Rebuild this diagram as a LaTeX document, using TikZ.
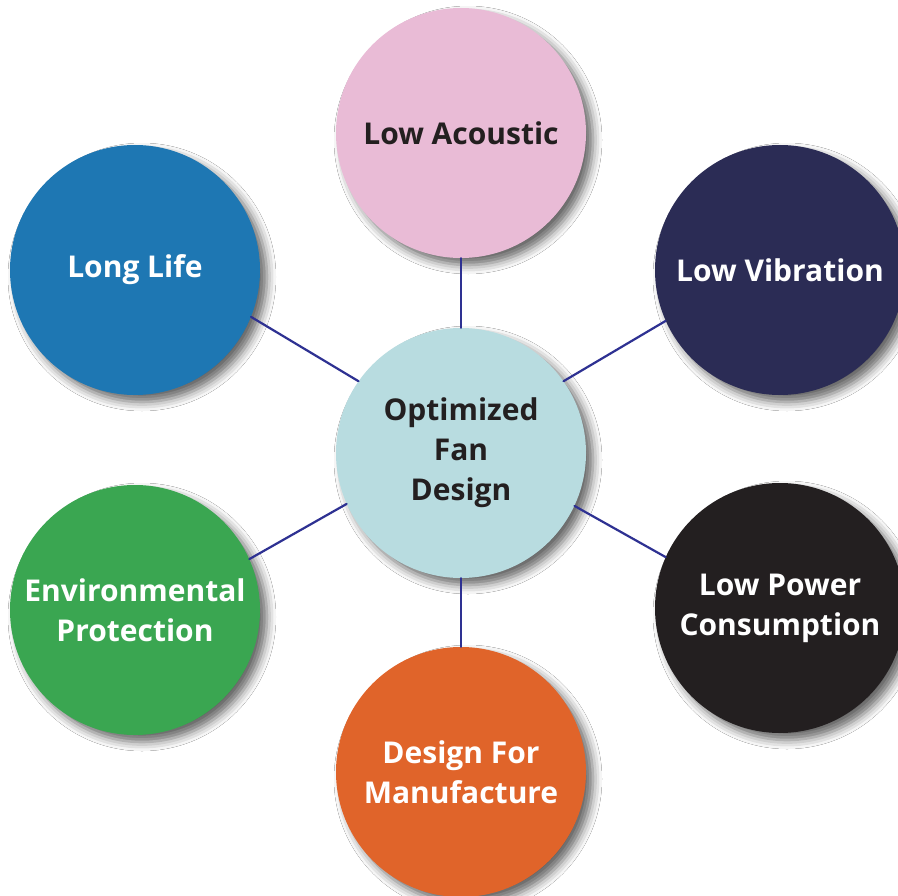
\documentclass[tikz,border=0pt]{standalone}
\usepackage{fontspec}
\setmainfont{Open Sans}
\usetikzlibrary{shadows.blur}

\definecolor{acousticpink}{HTML}{E9BBD6}
\definecolor{lifeblue}{HTML}{1E77B3}
\definecolor{vibnavy}{HTML}{2B2C55}
\definecolor{powerblack}{HTML}{231F20}
\definecolor{manuforange}{HTML}{E0642A}
\definecolor{envgreen}{HTML}{3AA651}
\definecolor{fanblue}{HTML}{B8DCE0}
\definecolor{spokeblue}{HTML}{2E3192}
\definecolor{darktext}{HTML}{231F20}

\begin{document}
\begin{tikzpicture}[x=1pt,y=-1pt,line join=round,line cap=round,
		bubble/.style={circle,minimum size=250pt,inner sep=0pt,align=center,
			font=\bfseries\fontsize{30}{40}\selectfont,
			blur shadow={shadow xshift=7pt,shadow yshift=-7pt,shadow blur radius=9pt,shadow opacity=60}},
		spoke/.style={draw=spokeblue,line width=2.2pt}]
	\clip (0,0) rectangle (898,896);
	\fill[white] (0,0) rectangle (898,896);
	% outer bubbles
	\node[bubble,fill=acousticpink,text=darktext] (acoustic) at (461,133) {Low Acoustic};
	\node[bubble,fill=lifeblue,text=white] (life) at (135,270) {Long Life};
	\node[bubble,fill=vibnavy,text=white] (vib) at (780,270) {Low Vibration};
	\node[bubble,fill=envgreen,text=white] (env) at (135,610) {Environmental\\Protection};
	\node[bubble,fill=powerblack,text=white] (power) at (780,608) {Low Power\\Consumption};
	\node[bubble,fill=manuforange,text=white] (manuf) at (461,772) {Design For\\Manufacture};
	% centre
	\node[bubble,fill=fanblue,text=darktext] (fan) at (461,453) {Optimized\\Fan\\Design};
	% spokes
	\foreach \n/\p/\q in {acoustic/90/270,life/145/338,vib/35/204,power/-25/156,env/204/24,manuf/270/90}
		\draw[spoke] (fan.\p)--(\n.\q);
\end{tikzpicture}
\end{document}
